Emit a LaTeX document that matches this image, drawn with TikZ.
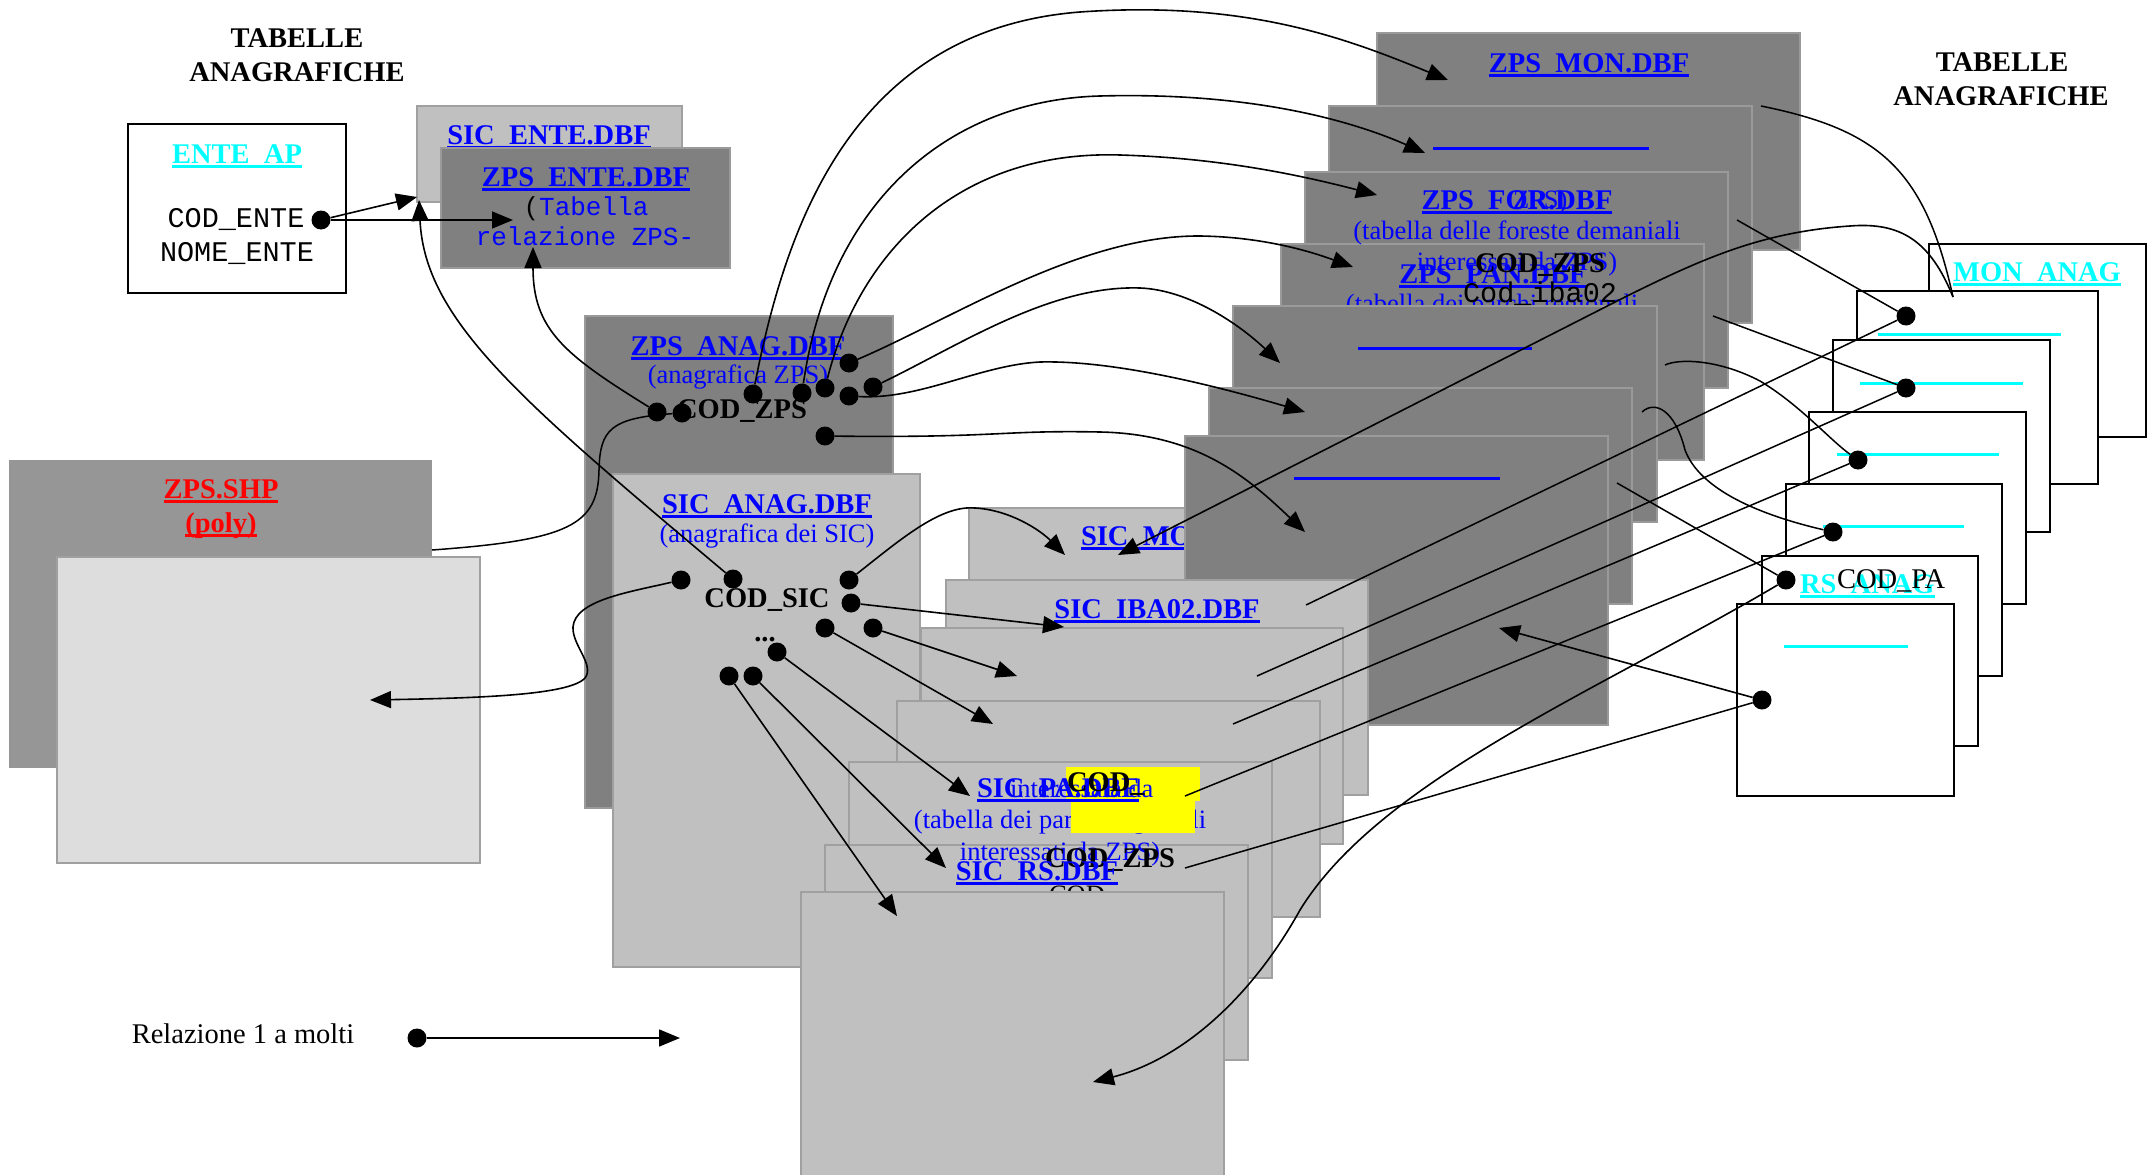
\documentclass[tikz,border=0pt]{standalone}
\usepackage{fontspec}
\setmainfont{Liberation Serif}
\setmonofont{Liberation Mono}
\usetikzlibrary{arrows.meta}
\definecolor{zgray}{HTML}{808080}
\definecolor{zedge}{HTML}{9A9A9A}
\definecolor{sgray}{HTML}{C0C0C0}
\definecolor{sedge}{HTML}{A0A0A0}
\definecolor{shpd}{HTML}{969696}
\definecolor{shpl}{HTML}{DDDDDD}
\definecolor{tblue}{HTML}{0000FF}
\definecolor{tcyan}{HTML}{00FFFF}
\definecolor{tred}{HTML}{FF0000}
\definecolor{tyel}{HTML}{FFFF00}
\newsavebox\ulbox
\newcommand\myul[1]{\sbox\ulbox{#1}\rlap{\rule[-5pt]{\wd\ulbox}{2.6pt}}\usebox\ulbox}
\newcommand\fbig{\fontsize{28.5}{30}\selectfont\bfseries}
\newcommand\freg{\fontsize{26.5}{28}\selectfont}
\newcommand\fregl{\fontsize{28.5}{30}\selectfont}
\newcommand\fmono{\fontsize{28.5}{30}\selectfont\ttfamily}
\newcommand\fmonos{\fontsize{26}{28}\selectfont\ttfamily}
\tikzset{
  txt/.style={inner sep=0pt, outer sep=0pt},
  hd/.style={txt, anchor=base, font=\fbig, text=black},
  ttl/.style={txt, anchor=base, font=\fbig, text=tblue},
  cod/.style={txt, anchor=base, font=\fbig, text=black},
  sub/.style={txt, anchor=base, font=\freg, text=tblue},
  mono/.style={txt, anchor=base, font=\fmono, text=black},
  zbox/.style={fill=zgray, draw=zedge, line width=1.2pt},
  sbox/.style={fill=sgray, draw=sedge, line width=1.2pt},
  abox/.style={fill=white, draw=black, line width=2pt},
  dot/.style={circle, fill=black, inner sep=0pt, minimum size=19pt},
  rel/.style={line width=1.6pt, -{Triangle[length=21pt,width=17pt]}},
  lnk/.style={line width=1.5pt},
  blu/.style={draw=tblue, line width=3pt},
  cyl/.style={draw=tcyan, line width=3pt}
}
\begin{document}
\begin{tikzpicture}[x=1pt,y=-1pt]
\useasboundingbox (0,0) rectangle (2156,1175);
\fill[white] (0,0) rectangle (2156,1175);

% headings
\node[hd] (h1) at (297,47) {TABELLE};
\node[hd] (h2) at (297,81) {ANAGRAFICHE};
\node[hd] (h3) at (2002,71) {TABELLE};
\node[hd] (h4) at (2001,105) {ANAGRAFICHE};

% ENTE_AP
\draw[abox] (128,124) rectangle (346,293);
\node[ttl, text=tcyan] (tente) at (237,163) {\myul{ENTE\_AP}};
\node[mono] (cent) at (236,227) {COD\_ENTE};
\node[mono] (nent) at (237,261) {NOME\_ENTE};

% SIC_ENTE / ZPS_ENTE
\draw[sbox] (417,106) rectangle (682,202);
\node[ttl] (tsente) at (549,144) {\myul{SIC\_ENTE.DBF}};
\draw[zbox] (441,148) rectangle (730,268);
\node[ttl] (tzente) at (586,186) {\myul{ZPS\_ENTE.DBF}};
\node[mono, font=\fmonos, text=tblue] (tab1) at (586,215) {\textcolor{black}{(}Tabella};
\node[mono, font=\fmonos, text=tblue] (tab2) at (585,245) {relazione ZPS-};

% ZPS.SHP
\fill[shpd] (9,460) rectangle (432,768);
\node[ttl, text=tred] (tshp) at (221,498) {\myul{ZPS.SHP}};
\node[ttl, text=tred] (tpoly) at (221,532) {\myul{(poly)}};
\draw[fill=shpl, draw=sedge, line width=1.2pt] (57,557) rectangle (480,863);

% ZPS_ANAG
\draw[zbox] (585,316) rectangle (893,808);
\node[ttl] (tzan) at (738,355) {\myul{ZPS\_ANAG.DBF}};
\node[sub] (szan) at (738,383) {(anagrafica ZPS)};
\node[cod] (czan) at (742,418) {COD\_ZPS};
% SIC_ANAG
\draw[sbox] (613,474) rectangle (920,967);
\node[ttl] (tsan) at (767,513) {\myul{SIC\_ANAG.DBF}};
\node[sub] (ssan) at (767,542) {(anagrafica dei SIC)};
\node[cod] (csan) at (767,607) {COD\_SIC};
\node[cod] (dsan) at (765,641) {...};

% SIC_MON
\draw[sbox] (969,508) rectangle (1391,724);
\node[ttl, anchor=base west] (tsmon) at (1081,545) {\myul{SIC\_MON.DBF}};

% ZPS stack
\draw[zbox] (1377,33) rectangle (1800,250);
\draw[zbox] (1329,106) rectangle (1752,323);
\draw[zbox] (1305,172) rectangle (1728,388);
\draw[zbox] (1281,244) rectangle (1704,460);
\node[sub] (span) at (1492,312) {(tabella dei parchi regionali};
\draw[zbox] (1233,306) rectangle (1657,522);
\draw[blu] (1358,348) -- (1532,348);
\draw[zbox] (1209,388) rectangle (1632,604);
\draw[zbox] (1185,436) rectangle (1608,725);
\draw[blu] (1294,478) -- (1500,478);
\node[ttl] (tzmon) at (1589,72) {\myul{ZPS\_MON.DBF}};
\draw[blu] (1433,148) -- (1649,148);
\node[ttl] (tzfor) at (1517,209) {\myul{ZPS\_FOR.DBF}};
\node[sub, anchor=base west] (zfx) at (1513,208) {ZPS)};
\node[sub] (sfor1) at (1517,239) {(tabella delle foreste demaniali};
\node[ttl] (tzpan) at (1493,283) {\myul{ZPS\_PAN.DBF}};
\node[sub] (sfor2) at (1517,270) {interessati da ZPS)};
\node[cod, anchor=base west] (czfor) at (1475,272) {COD\_ZPS};
\node[mono] (ciba) at (1540,302) {Cod\_iba02};

% SIC stack
\draw[sbox] (946,580) rectangle (1368,795);
\node[ttl] (tsiba) at (1157,618) {\myul{SIC\_IBA02.DBF}};
\draw[sbox] (921,628) rectangle (1343,844);
\draw[sbox] (897,701) rectangle (1320,917);
\draw[sbox] (849,762) rectangle (1272,978);
\node[sub] (spa1) at (1060,828) {(tabella dei parchi regionali};
\fill[tyel] (1066,767) rectangle (1200,801);
\fill[tyel] (1071,801) rectangle (1195,833);
\node[ttl, anchor=base west] (tspa) at (977,797) {\myul{SIC\_PA.DBF}};
\node[sub, anchor=base west] (spa0) at (1010,797) {interessata da};
\node[cod, anchor=base west] (cspa) at (1067,791) {COD\_};
\draw[sbox] (825,845) rectangle (1248,1060);
\node[sub] (spa2) at (1060,860) {interessati da ZPS)};
\node[cod, anchor=base west] (cspz) at (1045,867) {COD\_ZPS};
\node[ttl] (tsrs) at (1037,880) {\myul{SIC\_RS.DBF}};
\node[sub, text=black, anchor=base west] (csrs) at (1049,903) {COD};
\draw[sbox] (801,892) rectangle (1224,1190);

% anagrafiche (right)
\draw[abox] (1929,244) rectangle (2146,437);
\node[ttl, text=tcyan] (tmon) at (2037,281) {\myul{MON\_ANAG}};
\draw[abox] (1857,291) rectangle (2098,484);
\draw[cyl] (1878,334) -- (2061,334);
\draw[abox] (1833,340) rectangle (2050,532);
\draw[cyl] (1860,383) -- (2023,383);
\draw[abox] (1809,412) rectangle (2026,604);
\draw[cyl] (1837,454) -- (1999,454);
\draw[abox] (1786,484) rectangle (2002,676);
\draw[cyl] (1823,526) -- (1964,526);
\draw[abox] (1762,556) rectangle (1978,746);
\node[ttl, text=tcyan, anchor=base west] (trs) at (1800,593) {\myul{RS\_ANAG}};
\node[txt, font=\fregl, text=black, anchor=base west] (cpa) at (1837,588) {COD\_PA};
\draw[abox] (1737,604) rectangle (1954,796);
\draw[cyl] (1784,646) -- (1908,646);

% legend
\node[txt, anchor=base, font=\fregl] (leg) at (243,1043) {Relazione 1 a molti};

% dots
\node[dot] (de) at (321,220) {};
\node[dot] (z1) at (657,412) {};
\node[dot] (z2) at (682,413) {};
\node[dot] (z3) at (753,394) {};
\node[dot] (z4) at (802,393) {};
\node[dot] (z5) at (825,388) {};
\node[dot] (z6) at (849,363) {};
\node[dot] (z7) at (873,387) {};
\node[dot] (z8) at (849,396) {};
\node[dot] (z9) at (825,436) {};
\node[dot] (s1) at (733,579) {};
\node[dot] (s2) at (681,580) {};
\node[dot] (s3) at (849,580) {};
\node[dot] (s4) at (851,603) {};
\node[dot] (s5) at (825,628) {};
\node[dot] (s6) at (873,628) {};
\node[dot] (s7) at (777,652) {};
\node[dot] (s8) at (729,676) {};
\node[dot] (s9) at (753,676) {};
\node[dot] (a1) at (1906,316) {};
\node[dot] (a2) at (1906,388) {};
\node[dot] (a3) at (1858,460) {};
\node[dot] (a4) at (1833,532) {};
\node[dot] (a5) at (1786,580) {};
\node[dot] (a6) at (1762,700) {};
\node[dot] (ld) at (417,1038) {};

% free ends
\coordinate (aSE2) at (417,197);
\coordinate (aZE2) at (513,220);
\coordinate (aZE) at (533,247);
\coordinate (aSE) at (419,200);
\coordinate (shpE) at (432,550);
\coordinate (aSHP) at (370,700);
\coordinate (aMON) at (1448,80);
\coordinate (aB2) at (1425,153);
\coordinate (aFOR) at (1377,195);
\coordinate (aPAN) at (1353,267);
\coordinate (aB5) at (1280,363);
\coordinate (aB6) at (1305,412);
\coordinate (aB7) at (1305,532);
\coordinate (aSMON) at (1065,555);
\coordinate (aIBA) at (1064,627);
\coordinate (aS3) at (1017,676);
\coordinate (aS4) at (993,724);
\coordinate (aSPA) at (970,796);
\coordinate (aSRS) at (946,868);
\coordinate (aSF) at (897,916);
\coordinate (aSMON2) at (1118,555);
\coordinate (aZ7) at (1499,628);
\coordinate (aSRS2) at (1093,1082);
\coordinate (b2top) at (1953,297);
\coordinate (L1s) at (1761,106);
\coordinate (L3s) at (1737,220);
\coordinate (L4s) at (1713,316);
\coordinate (L5s) at (1665,365);
\coordinate (L6s) at (1642,412);
\coordinate (L7s) at (1617,483);
\coordinate (e1) at (1306,605);
\coordinate (e2) at (1257,676);
\coordinate (e3) at (1233,724);
\coordinate (e4) at (1185,796);
\coordinate (e6) at (1185,868);
\coordinate (le) at (680,1038);

% connectors
\draw[rel] (de) -- (aSE2);
\draw[rel] (de) -- (aZE2);
\draw[rel] (z1) .. controls (565,355) and (533,330) .. (aZE);
\draw[lnk] (z2) .. controls (610,418) and (600,430) .. (599,470) .. controls (598,525) and (570,540) .. (shpE);
\draw[rel] (z3) .. controls (785,230) and (850,30) .. (1080,12) .. controls (1250,0) and (1350,40) .. (aMON);
\draw[rel] (z4) .. controls (830,200) and (950,100) .. (1100,96) .. controls (1250,92) and (1350,120) .. (aB2);
\draw[rel] (z5) .. controls (860,250) and (960,150) .. (1120,155) .. controls (1220,158) and (1300,175) .. (aFOR);
\draw[rel] (z6) .. controls (950,320) and (1080,235) .. (1200,236) .. controls (1270,237) and (1320,255) .. (aPAN);
\draw[rel] (z7) .. controls (960,345) and (1050,285) .. (1140,288) .. controls (1190,290) and (1240,325) .. (aB5);
\draw[rel] (z8) .. controls (920,400) and (980,365) .. (1040,362) .. controls (1120,360) and (1230,390) .. (aB6);
\draw[rel] (z9) .. controls (1000,438) and (1000,430) .. (1100,432) .. controls (1200,434) and (1250,480) .. (aB7);

\draw[rel] (s1) .. controls (520,400) and (425,320) .. (aSE);
\draw[rel] (s2) .. controls (630,592) and (575,600) .. (573,627) .. controls (572,645) and (595,665) .. (585,678) .. controls (570,695) and (480,698) .. (aSHP);
\draw[rel] (s3) .. controls (900,540) and (940,505) .. (975,508) .. controls (1010,510) and (1040,530) .. (aSMON);
\draw[rel] (s4) -- (aIBA);
\draw[rel] (s6) -- (aS3);
\draw[rel] (s5) -- (aS4);
\draw[rel] (s7) -- (aSPA);
\draw[rel] (s9) -- (aSRS);
\draw[rel] (s8) -- (aSF);

\draw[lnk] (L1s) .. controls (1880,130) and (1925,170) .. (b2top);
\draw[rel] (b2top) .. controls (1930,240) and (1900,222) .. (1850,226) .. controls (1760,232) and (1700,260) .. (1625,297) -- (aSMON2);
\draw[lnk] (L3s) -- (a1);
\draw[lnk] (L4s) -- (a2);
\draw[lnk] (L5s) .. controls (1680,358) and (1720,360) .. (1760,381) .. controls (1800,405) and (1830,440) .. (a3);
\draw[lnk] (L6s) .. controls (1655,400) and (1675,410) .. (1685,450) .. controls (1700,490) and (1760,515) .. (a4);
\draw[lnk] (L7s) -- (a5);
\draw[lnk] (a1) -- (e1);
\draw[lnk] (a2) -- (e2);
\draw[lnk] (a3) -- (e3);
\draw[lnk] (a4) -- (e4);
\draw[rel] (a5) .. controls (1600,690) and (1380,780) .. (1300,910) .. controls (1250,1000) and (1180,1060) .. (aSRS2);
\draw[rel] (a6) -- (aZ7);
\draw[lnk] (a6) -- (e6);

\draw[rel] (ld) -- (le);
\end{tikzpicture}
\end{document}
